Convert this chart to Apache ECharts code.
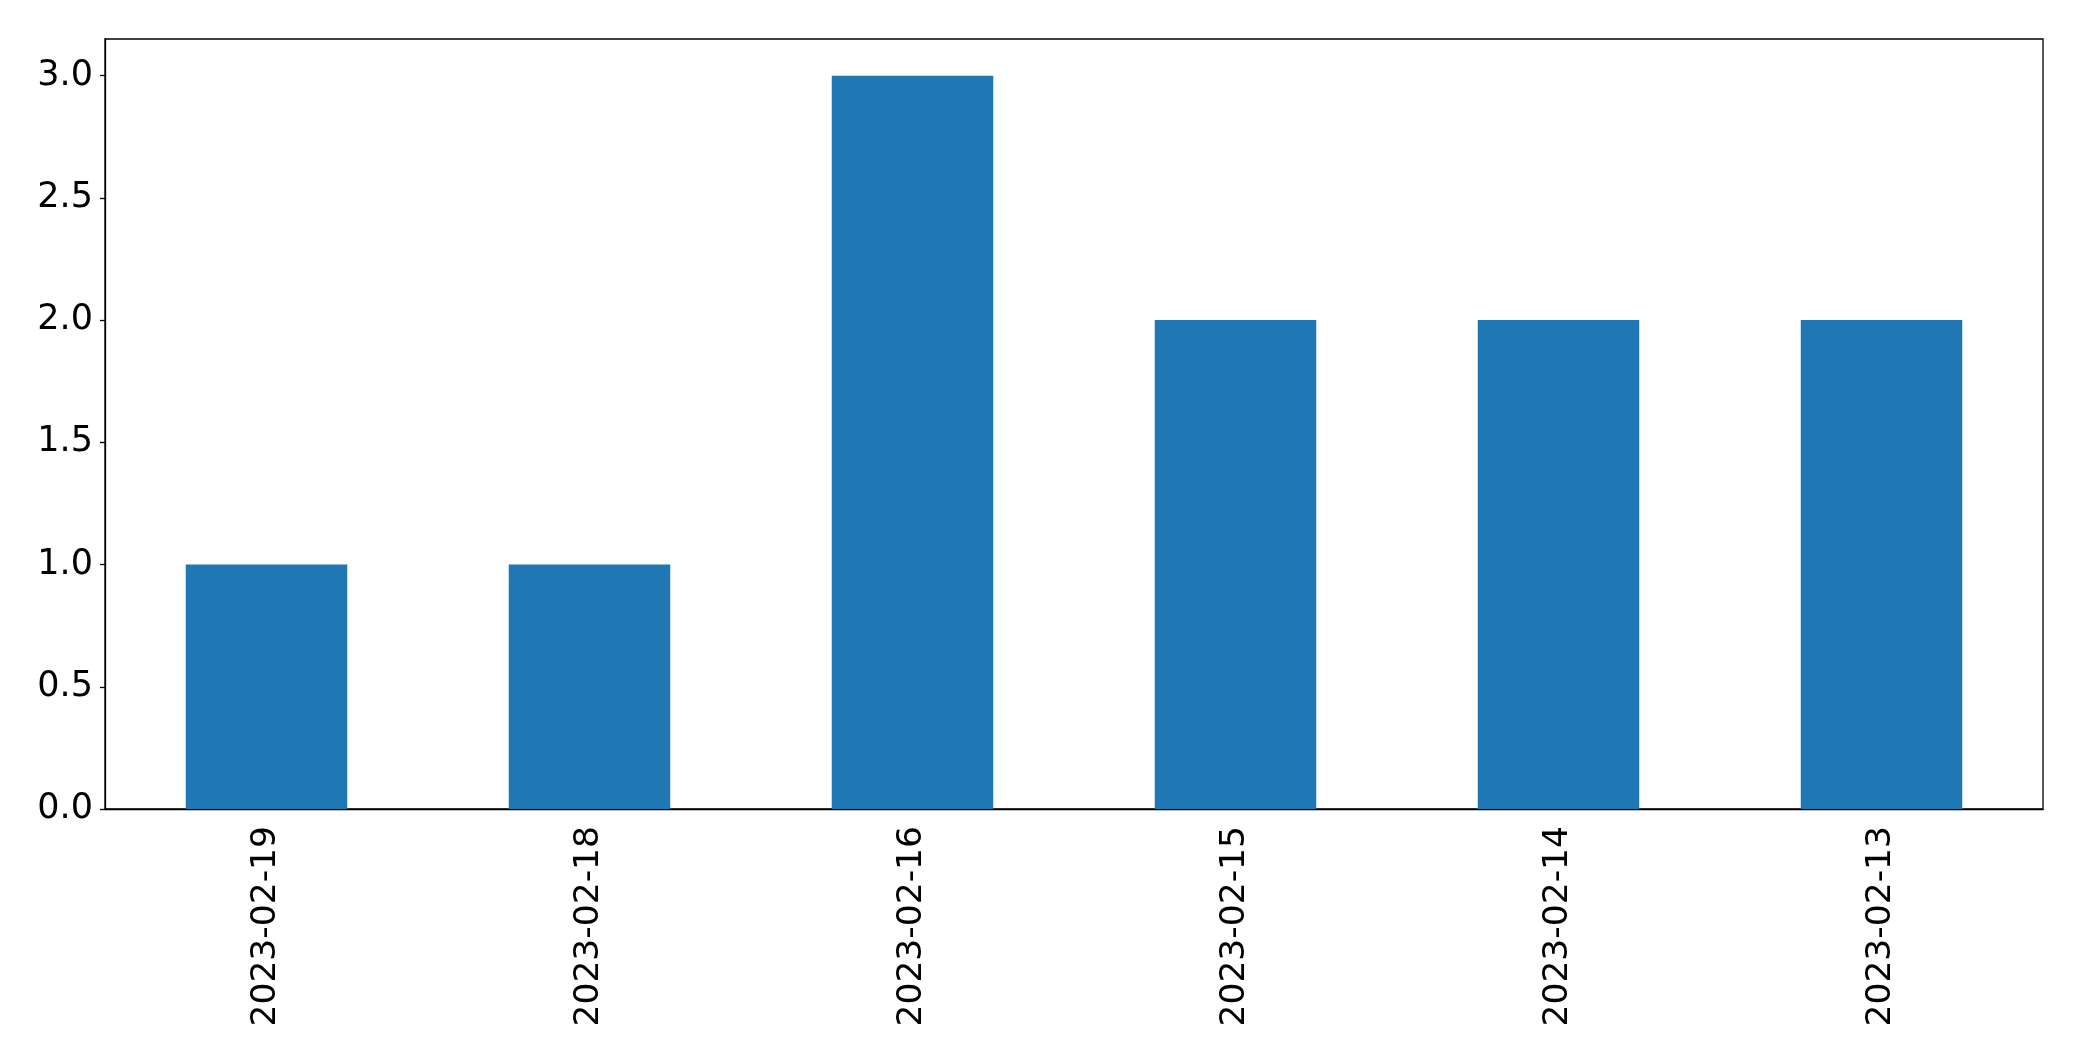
<!DOCTYPE html>
<html>
<head>
<meta charset="utf-8">
<script src="https://cdn.jsdelivr.net/npm/echarts@6/dist/echarts.min.js"></script>
<style>html,body{margin:0;padding:0;background:#fff;}#c{width:2082px;height:1061px;}</style>
</head>
<body>
<div id="c"></div>
<script>
const categories = ['2023-02-19', '2023-02-18', '2023-02-16', '2023-02-15', '2023-02-14', '2023-02-13'];
const values = [1, 1, 3, 2, 2, 2];
const yTicks = [0, 0.5, 1.0, 1.5, 2.0, 2.5, 3.0];

const chart = echarts.init(document.getElementById('c'), null, {renderer: 'canvas'});
const font = 'DejaVu Sans';
chart.setOption({
  animation: false,
  backgroundColor: '#fff',
  grid: {left: 105, right: 39, top: 39, bottom: 252, show: true, borderColor: '#000', borderWidth: 1.3, containLabel: false},
  xAxis: {
    type: 'category',
    data: categories,
    axisLine: {lineStyle: {color: '#000', width: 1.3}},
    axisTick: {alignWithLabel: true, length: 5, lineStyle: {color: '#000', width: 1.3}},
    axisLabel: {rotate: 90, fontFamily: font, fontSize: 34.5, color: '#000', margin: 17}
  },
  yAxis: {
    type: 'value',
    min: 0, max: 3.15, interval: 0.5,
    splitLine: {show: false},
    axisLine: {show: true, lineStyle: {color: '#000', width: 1.3}},
    axisTick: {show: true, length: 5, customValues: yTicks, lineStyle: {color: '#000', width: 1.3}},
    axisLabel: {fontFamily: font, fontSize: 35, color: '#000', margin: 12, customValues: yTicks,
      formatter: v => v.toFixed(1)}
  },
  series: [{
    type: 'bar',
    data: values,
    barWidth: '50%',
    itemStyle: {color: '#1f77b4'}
  }]
});
</script>
</body>
</html>
